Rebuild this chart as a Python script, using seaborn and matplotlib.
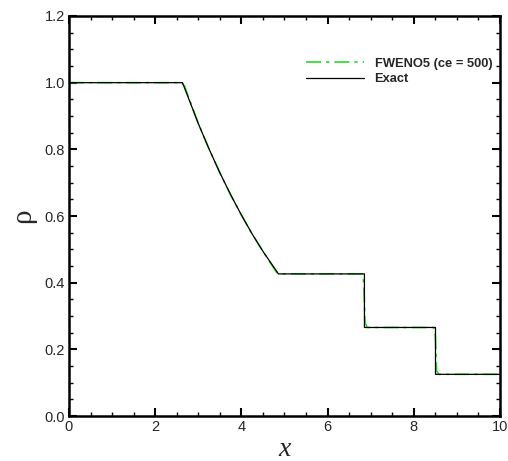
import numpy as np
import pandas as pd
import matplotlib
matplotlib.use("Agg")
import matplotlib.pyplot as plt
from matplotlib.ticker import MultipleLocator
import seaborn as sns

# ---------- data ----------
# exact solution (Sod tube, shown at t = 2)
exact_x = [0.0, 2.634, 3.0, 3.25, 3.5, 3.75, 4.0, 4.25, 4.5, 4.86,
           6.855, 6.855, 8.504, 8.504, 10.0]
exact_rho = [1.0, 1.0, 0.8775, 0.801, 0.730, 0.664, 0.603, 0.546, 0.494, 0.4263,
             0.4263, 0.2656, 0.2656, 0.125, 0.125]

# FWENO5 numerical result (slightly smeared at the jumps)
num_x = [0.0, 2.60, 2.68, 3.0, 3.25, 3.5, 3.75, 4.0, 4.25, 4.5, 4.82, 4.90,
         6.80, 6.84, 6.87, 6.92, 8.46, 8.50, 8.53, 8.58, 10.0]
num_rho = [1.0, 1.0, 0.99, 0.8775, 0.801, 0.730, 0.664, 0.603, 0.546, 0.494, 0.430, 0.4263,
           0.4263, 0.40, 0.28, 0.2656, 0.2656, 0.24, 0.135, 0.125, 0.125]

df_exact = pd.DataFrame({"x": exact_x, "rho": exact_rho})
df_num = pd.DataFrame({"x": num_x, "rho": num_rho})

# ---------- plot ----------
sns.set_style("ticks")
plt.rcParams["font.family"] = ["Liberation Sans", "DejaVu Sans"]

fig = plt.figure(figsize=(5.08, 4.61), dpi=100)
ax = fig.add_axes([0.1358, 0.0976, 0.8484, 0.8677])

sns.lineplot(data=df_num, x="x", y="rho", ax=ax, sort=False, estimator=None,
             color="#22dd22", linestyle=(0, (9, 3, 2, 3)), linewidth=1.2,
             label="FWENO5 (ce = 500)")
sns.lineplot(data=df_exact, x="x", y="rho", ax=ax, sort=False, estimator=None,
             color="black", linewidth=0.9, label="Exact")

ax.set_xlim(0, 10)
ax.set_ylim(0, 1.2)
ax.xaxis.set_major_locator(MultipleLocator(2))
ax.xaxis.set_minor_locator(MultipleLocator(0.5))
ax.yaxis.set_major_locator(MultipleLocator(0.2))
ax.yaxis.set_minor_locator(MultipleLocator(0.05))
ax.set_xticklabels([f"{int(v)}" for v in ax.get_xticks()])
ax.set_yticklabels([f"{v:.1f}" for v in ax.get_yticks()])

ax.tick_params(which="both", direction="in", top=True, right=True, labelsize=10.5, color="black")
ax.tick_params(which="major", length=6, width=1.5, pad=3)
ax.tick_params(which="minor", length=3, width=1)
for s in ax.spines.values():
    s.set_linewidth(1.8)
    s.set_color("black")

ax.set_xlabel("x", fontsize=20, fontstyle="italic", family="Liberation Serif", labelpad=2)
ax.set_ylabel("ρ", fontsize=21, family="Liberation Serif", labelpad=6)

leg = ax.legend(loc="upper right", bbox_to_anchor=(1.0, 0.915), frameon=False,
                handlelength=4.5, handletextpad=0.8, prop={"weight": "bold", "size": 9.3},
                labelspacing=0.25, borderaxespad=0.2)

fig.savefig("out.png", dpi=100)
